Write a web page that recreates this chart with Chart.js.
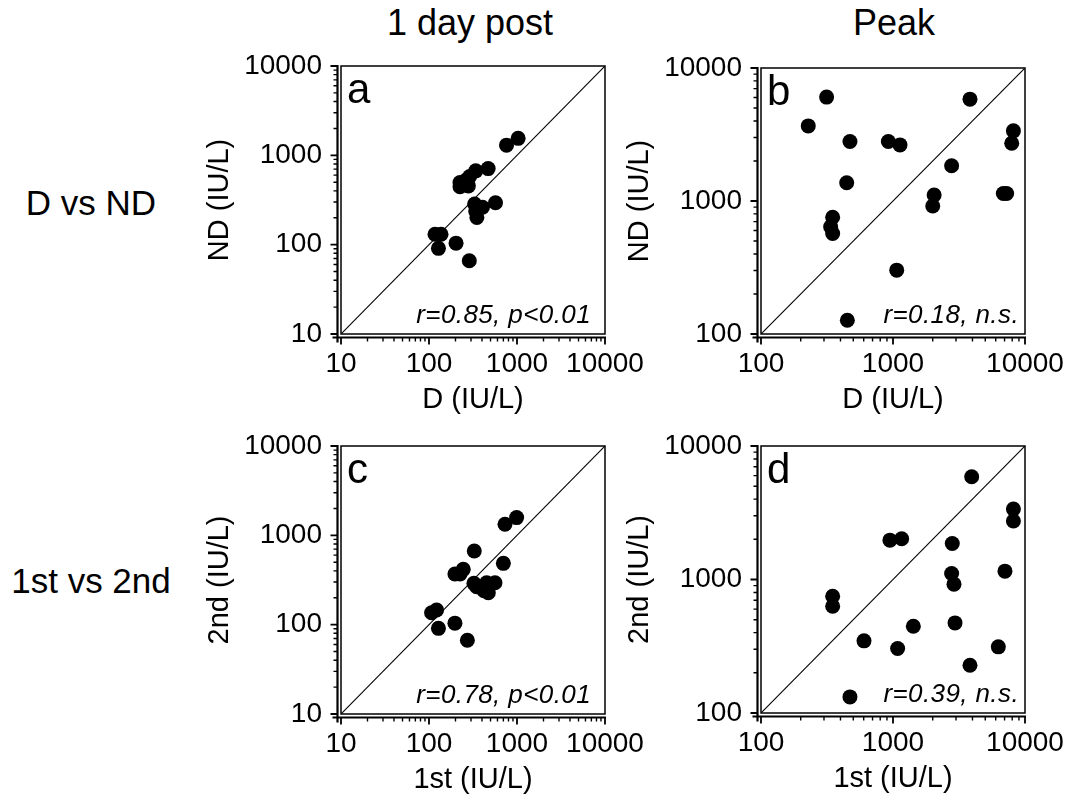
<!DOCTYPE html>
<html>
<head>
<meta charset="utf-8">
<script src="https://cdn.jsdelivr.net/npm/chart.js@4.4.1/dist/chart.umd.min.js"></script>
<style>
  body { margin:0; background:#fff; width:1079px; height:801px; overflow:hidden; position:relative;
         font-family:'Liberation Sans', Arial, sans-serif; color:#000; }
  canvas { position:absolute; }
  .lbl { position:absolute; line-height:1; white-space:nowrap; text-align:center; }
</style>
</head>
<body>
<div class="lbl" style="font-size:36px;left:370px;width:200px;top:5px">1 day post</div>
<div class="lbl" style="font-size:36px;left:794px;width:200px;top:5px">Peak</div>
<div class="lbl" style="font-size:35px;left:0;width:182px;top:185px">D vs ND</div>
<div class="lbl" style="font-size:35px;left:0;width:182px;top:563px">1st vs 2nd</div>

<canvas id="pa"></canvas>
<canvas id="pb"></canvas>
<canvas id="pc"></canvas>
<canvas id="pd"></canvas>

<script>
// ---- data (IU/L) ----
const dayPostTicks = [10, 100, 1000, 10000];
const peakTicks    = [100, 1000, 10000];

// a: 1 day post, D vs ND
const dayPostD  = [1030, 760, 470, 340, 290, 265, 225, 225, 280, 330, 405, 340, 350, 570, 117, 137, 128, 203, 287, 250];
const dayPostND = [1550, 1300, 710, 670, 580, 530, 495, 445, 455, 285, 262, 235, 202, 295, 131, 131, 91, 104, 66, 470];

// b: peak, D vs ND
const peakD  = [314, 228, 472, 922, 1130, 3830, 446, 349, 337, 349, 1067, 451, 2050, 2000, 2780, 6850, 7260, 8170, 7930];
const peakND = [6040, 3670, 2800, 2800, 2640, 5830, 1370, 754, 641, 570, 302, 127, 1110, 916, 1840, 1140, 1140, 3370, 2720];

// c: 1 day post, 1st vs 2nd
const dayPost1st = [990, 730, 327, 700, 245, 197, 225, 324, 452, 562, 422, 472, 107, 122, 128, 197, 273, 348];
const dayPost2nd = [1580, 1330, 668, 486, 416, 369, 369, 290, 295, 295, 240, 228, 136, 146, 91, 104, 67, 266];

// d: peak, 1st vs 2nd
const peak1st = [3945, 8170, 8170, 948, 1163, 2812, 7050, 2780, 2898, 349, 349, 1426, 2951, 603, 1084, 6280, 3830, 472];
const peak2nd = [5890, 3370, 2740, 1972, 2018, 1862, 1155, 1110, 923, 750, 631, 447, 473, 347, 304, 313, 228, 132];

const panelLetters = ['a', 'b', 'c', 'd'];
const statTexts = ['r=0.85, p<0.01', 'r=0.18, n.s.', 'r=0.78, p<0.01', 'r=0.39, n.s.'];
const xTitles = ['D (IU/L)', 'D (IU/L)', '1st (IU/L)', '1st (IU/L)'];
const yTitles = ['ND (IU/L)', 'ND (IU/L)', '2nd (IU/L)', '2nd (IU/L)'];

// ---- layout ----
const FONT = "'Liberation Sans', Arial, sans-serif";
// paddings must exceed Chart.js' own label overflow so the plot box lands where we put it
const Y_AXIS_W = 138, X_AXIS_H = 83, PAD_TOP = 40, PAD_RIGHT = 56;

Chart.defaults.font.family = FONT;
Chart.defaults.color = '#000';

const minorOf = decades => {
  const out = [];
  decades.slice(0, -1).forEach(d => { for (let k = 2; k <= 9; k++) out.push(d * k); });
  return out;
};

// frame, offset axes with ticks, panel letter and r text
const frame = {
  id: 'frame',
  afterDraw(chart, args, o) {
    const { ctx, chartArea: a, scales: { x, y } } = chart;
    const ax = a.left - 3.5, ay = a.bottom + 3.5;
    ctx.save();
    ctx.strokeStyle = '#000';
    ctx.lineWidth = 1.5;
    ctx.strokeRect(a.left, a.top, a.right - a.left, a.bottom - a.top);

    ctx.lineWidth = 2.2;
    ctx.beginPath();
    ctx.moveTo(ax, a.top - 1); ctx.lineTo(ax, ay + 5);
    ctx.moveTo(ax - 5, ay); ctx.lineTo(a.right + 1, ay);
    ctx.stroke();

    ctx.lineWidth = 1.8;
    ctx.beginPath();
    o.ticks.forEach(v => {
      const px = x.getPixelForValue(v), py = y.getPixelForValue(v);
      ctx.moveTo(px, ay); ctx.lineTo(px, ay + 7);
      ctx.moveTo(ax, py); ctx.lineTo(ax - 7, py);
    });
    ctx.stroke();
    ctx.lineWidth = 1.4;
    ctx.beginPath();
    minorOf(o.ticks).forEach(v => {
      const px = x.getPixelForValue(v), py = y.getPixelForValue(v);
      ctx.moveTo(px, ay); ctx.lineTo(px, ay + 4);
      ctx.moveTo(ax, py); ctx.lineTo(ax - 4, py);
    });
    ctx.stroke();

    ctx.fillStyle = '#000';
    ctx.textBaseline = 'alphabetic';
    ctx.textAlign = 'left';
    ctx.font = '42px ' + FONT;
    ctx.fillText(o.letter, a.left + 6, a.top + 37);
    ctx.textAlign = 'right';
    ctx.font = 'italic 26px ' + FONT;
    try { ctx.letterSpacing = '0.4px'; } catch (e) {}
    ctx.fillText(o.stat, a.right - o.inset, a.bottom - 11);
    ctx.restore();
  }
};

const panels = [
  { id: 'pa', xs: dayPostD,   ys: dayPostND,  ticks: dayPostTicks, rect: [341, 66, 605, 334],  inset: 14 },
  { id: 'pb', xs: peakD,      ys: peakND,     ticks: peakTicks,    rect: [761, 68, 1025, 334], inset: 6 },
  { id: 'pc', xs: dayPost1st, ys: dayPost2nd, ticks: dayPostTicks, rect: [341, 446, 605, 714], inset: 14 },
  { id: 'pd', xs: peak1st,    ys: peak2nd,    ticks: peakTicks,    rect: [761, 446, 1025, 713], inset: 6 }
];

panels.forEach((p, i) => {
  const [l, t, r, b] = p.rect;
  const cv = document.getElementById(p.id);
  cv.width = r - l + Y_AXIS_W + PAD_RIGHT;
  cv.height = b - t + PAD_TOP + X_AXIS_H;
  cv.style.left = (l - Y_AXIS_W) + 'px';
  cv.style.top = (t - PAD_TOP) + 'px';

  const lo = p.ticks[0], hi = p.ticks[p.ticks.length - 1];
  const axis = (title, fit) => ({
    type: 'logarithmic', min: lo, max: hi,
    afterBuildTicks: s => { s.ticks = p.ticks.map(v => ({ value: v })); },
    afterFit: fit,
    grid: { display: false, drawTicks: false },
    border: { display: false },
    ticks: { color: '#000', font: { size: 28 }, maxRotation: 0, minRotation: 0, autoSkip: false,
             callback: v => String(v) },
    title: { display: true, text: title, color: '#000', font: { size: 29 }, padding: 0 }
  });
  const xAxis = axis(xTitles[i], s => { s.height = X_AXIS_H; });
  xAxis.ticks.padding = 13;
  const yAxis = axis(yTitles[i], s => { s.width = Y_AXIS_W; });
  yAxis.ticks.padding = 19;

  new Chart(cv, {
    type: 'scatter',
    data: {
      datasets: [
        { data: p.xs.map((v, k) => ({ x: v, y: p.ys[k] })),
          backgroundColor: '#000', borderWidth: 0, pointRadius: 7.5, pointHoverRadius: 7.5 },
        { type: 'line', data: [{ x: lo, y: lo }, { x: hi, y: hi }],
          borderColor: '#000', borderWidth: 1.1, pointRadius: 0, fill: false }
      ]
    },
    options: {
      responsive: false, animation: false, events: [],
      layout: { padding: { top: PAD_TOP, right: PAD_RIGHT, bottom: 0, left: 0 } },
      plugins: {
        legend: { display: false }, tooltip: { enabled: false },
        frame: { ticks: p.ticks, letter: panelLetters[i], stat: statTexts[i], inset: p.inset }
      },
      scales: { x: xAxis, y: yAxis }
    },
    plugins: [frame]
  });
});
</script>
</body>
</html>
